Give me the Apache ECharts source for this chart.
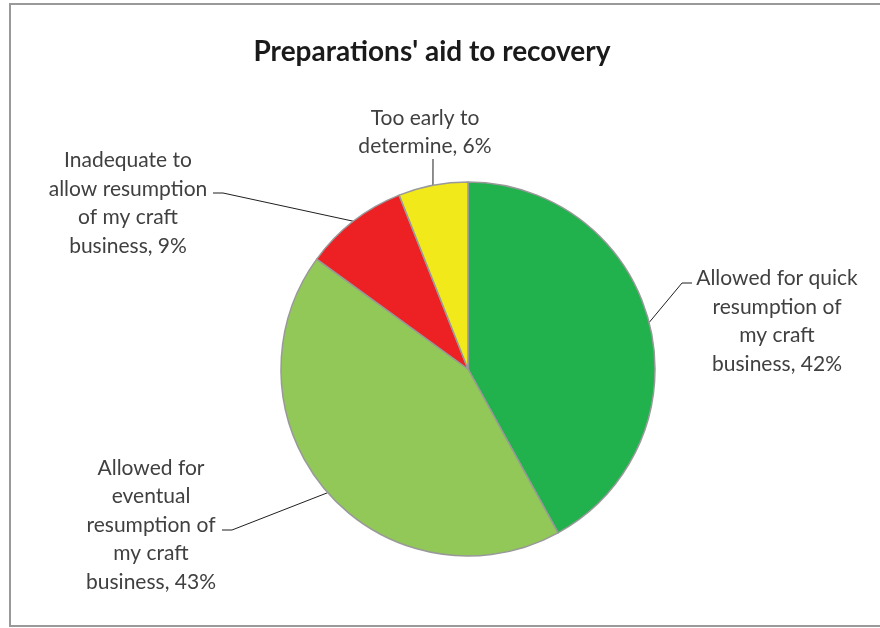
<!DOCTYPE html>
<html>
<head>
<meta charset="utf-8">
<style>
  html, body { margin: 0; padding: 0; background: #fff; }
  #chart { width: 880px; height: 628px; }
</style>
<script src="https://cdn.jsdelivr.net/npm/echarts@6/dist/echarts.min.js"></script>
</head>
<body>
<div id="chart"></div>
<script>
// Survey answers, in clockwise order from 12 o'clock
const categories = [
  'Allowed for quick\nresumption of\nmy craft\nbusiness',
  'Allowed for\neventual\nresumption of\nmy craft\nbusiness',
  'Inadequate to\nallow resumption\nof my craft\nbusiness',
  'Too early to\ndetermine'
];
const shares = [42, 43, 9, 6];
const sliceColors = ['#21B14D', '#92C857', '#ED2024', '#F2E91A'];

// Label anchor (centre of text block) and leader-line elbow/end per slice
const labelAnchors = [[777, 321], [151, 525], [128, 203], [425, 132]];
const leaderBends = [
  [[682, 283], [692, 283]],
  [[232, 530], [222, 530]],
  [[223, 193], [213, 193]],
  [[433, 159], [433, 159]]
];

const chart = echarts.init(document.getElementById('chart'), null, { renderer: 'canvas' });

chart.setOption({
  backgroundColor: '#ffffff',
  animation: false,
  title: {
    text: "Preparations' aid to recovery",
    left: 427,
    top: 33,
    textAlign: 'center',
    textStyle: {
      fontFamily: 'Lato',
      fontWeight: 'bold',
      fontSize: 28,
      color: '#1a1a1a'
    }
  },
  graphic: [{
    type: 'rect',
    shape: { x: 10, y: 4, width: 880, height: 622 },
    style: { fill: 'none', stroke: '#999999', lineWidth: 2 },
    silent: true,
    z: -1
  }],
  series: [{
    type: 'pie',
    center: [468, 369],
    radius: 187,
    startAngle: 90,
    clockwise: true,
    avoidLabelOverlap: false,
    data: categories.map((name, i) => ({
      name: name,
      value: shares[i],
      itemStyle: { color: sliceColors[i] }
    })),
    itemStyle: { borderColor: '#999999', borderWidth: 1.5 },
    label: {
      show: true,
      position: 'outside',
      formatter: (p) => p.name + ', ' + p.value + '%',
      fontFamily: 'Lato',
      fontSize: 21,
      lineHeight: 28.5,
      color: '#404040',
      align: 'center'
    },
    labelLine: {
      show: true,
      lineStyle: { color: '#1f1f1f', width: 1 }
    },
    labelLayout: (params) => {
      const i = params.dataIndex;
      const start = params.labelLinePoints ? params.labelLinePoints[0] : leaderBends[i][0];
      return {
        x: labelAnchors[i][0],
        y: labelAnchors[i][1],
        align: 'center',
        verticalAlign: 'middle',
        labelLinePoints: [start, leaderBends[i][0], leaderBends[i][1]]
      };
    },
    emphasis: { disabled: true }
  }]
});
</script>
</body>
</html>
